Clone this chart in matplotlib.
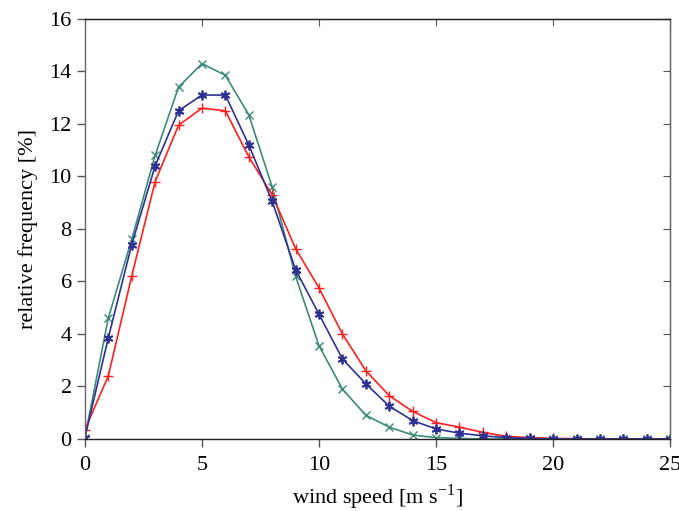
import matplotlib.pyplot as plt
import numpy as np

plt.rcParams["font.family"] = ["Liberation Serif", "DejaVu Serif"]
plt.rcParams["mathtext.fontset"] = "stix"

# wind speed bins [m/s]
speed = np.arange(0, 26)

# relative frequency [%] for the three distributions
freq_red = [0.35, 2.4, 6.2, 9.8, 11.95, 12.6, 12.5, 10.75, 9.3, 7.25, 5.75, 4.0, 2.6,
            1.65, 1.05, 0.62, 0.45, 0.25, 0.1, 0.05, 0.02, 0.01, 0.0, 0.0, 0.0, 0.0]
freq_blue = [0.05, 3.85, 7.4, 10.4, 12.5, 13.1, 13.1, 11.2, 9.05, 6.45, 4.75, 3.05, 2.1,
             1.25, 0.7, 0.38, 0.22, 0.12, 0.05, 0.02, 0.0, 0.0, 0.0, 0.0, 0.0, 0.0]
freq_green = [0.05, 4.6, 7.6, 10.8, 13.4, 14.3, 13.85, 12.35, 9.6, 6.2, 3.55, 1.9, 0.9,
              0.45, 0.15, 0.05, 0.02, 0.0, 0.0, 0.0, 0.0, 0.0, 0.0, 0.0, 0.0, 0.0]

xticks = [0, 5, 10, 15, 20, 25]
yticks = [0, 2, 4, 6, 8, 10, 12, 14, 16]

fig = plt.figure(figsize=(6.79, 5.11), dpi=100)
ax = fig.add_axes([0.125, 0.141, 0.862, 0.822])

ax.plot(speed, freq_green, color="#3c8a78", marker="x", markersize=6, lw=1.2)
ax.plot(speed, freq_red, color="#ff1f1f", marker="+", markersize=7, lw=1.2)
ax.plot(speed, freq_blue, color="#2e3192", marker=(6, 2, 0), markersize=7, lw=1.2,
        markeredgewidth=1.3)

ax.set_xlim(0, 25)
ax.set_ylim(0, 16)
ax.set_xticks(xticks)
ax.set_yticks(yticks)
ax.tick_params(direction="out", length=6, labelsize=16, width=1, color="#555555")
ax.tick_params(axis="x", pad=6)

ax.spines["left"].set_color("#666666")
ax.spines["right"].set_color("#666666")
ax.spines["top"].set_color("#222222")
ax.spines["bottom"].set_color("#222222")
for s in ax.spines.values():
    s.set_linewidth(1.0)

# inward ticks on top and right, no labels
top = ax.secondary_xaxis("top")
top.set_xticks(xticks)
top.tick_params(direction="in", length=5, labeltop=False, color="#555555")
right = ax.secondary_yaxis("right")
right.set_yticks(yticks)
right.tick_params(direction="in", length=5, labelright=False, color="#555555")

ax.set_xlabel("wind speed [m s$^{\\mathregular{-1}}$]", fontsize=16, labelpad=6)
ax.set_ylabel("relative frequency [%]", fontsize=16, labelpad=8)

plt.savefig("out.png", dpi=100)
plt.close()
